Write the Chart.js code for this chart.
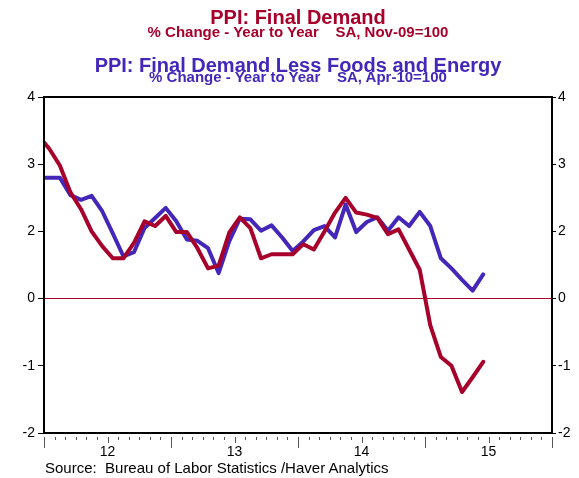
<!DOCTYPE html>
<html>
<head>
<meta charset="utf-8">
<script src="https://cdn.jsdelivr.net/npm/chart.js@4.4.1/dist/chart.umd.min.js"></script>
<style>
body{margin:0;background:#fff;}
#wrap{position:relative;width:579px;height:478px;font-family:"Liberation Sans",Arial,sans-serif;}
#wrap canvas{position:absolute;left:0;top:0;}
.t{position:absolute;left:0;width:596px;text-align:center;font-weight:bold;white-space:pre;}
.red{color:#a6002b;}
.blue{color:#4427b8;}
.big{font-size:20px;line-height:20px;}
.small{font-size:15px;line-height:15px;}
#source{position:absolute;left:45px;top:460px;font-size:15px;line-height:15px;color:#000;white-space:pre;}
</style>
</head>
<body>
<div id="wrap">
  <canvas id="chart" width="579" height="478"></canvas>
  <div class="t big red" style="top:7px">PPI: Final Demand</div>
  <div class="t small red" style="top:24px">% Change - Year to Year    SA, Nov-09=100</div>
  <div class="t big blue" style="top:55px">PPI: Final Demand Less Foods and Energy</div>
  <div class="t small blue" style="top:69px">% Change - Year to Year    SA, Apr-10=100</div>
  <div id="source">Source:  Bureau of Labor Statistics /Haver Analytics</div>
</div>
<script>
// months plotted, Dec-11 .. Jun-15
var months = ['Dec-11',
  'Jan-12','Feb-12','Mar-12','Apr-12','May-12','Jun-12','Jul-12','Aug-12','Sep-12','Oct-12','Nov-12','Dec-12',
  'Jan-13','Feb-13','Mar-13','Apr-13','May-13','Jun-13','Jul-13','Aug-13','Sep-13','Oct-13','Nov-13','Dec-13',
  'Jan-14','Feb-14','Mar-14','Apr-14','May-14','Jun-14','Jul-14','Aug-14','Sep-14','Oct-14','Nov-14','Dec-14',
  'Jan-15','Feb-15','Mar-15','Apr-15','May-15','Jun-15'];
// PPI: Final Demand (position on the value axis)
var finalDemand = [2.42,
  2.23,1.98,1.58,1.33,1.00,0.78,0.60,0.60,0.83,1.15,1.08,1.23,
  0.99,0.99,0.75,0.45,0.49,0.98,1.21,1.05,0.60,0.66,0.66,0.66,
  0.81,0.73,1.00,1.28,1.50,1.28,1.25,1.20,0.96,1.03,0.73,0.43,
  -0.40,-0.87,-1.00,-1.39,-1.17,-0.94];
// PPI: Final Demand Less Foods and Energy
var lessFoodEnergy = [1.80,
  1.80,1.80,1.54,1.47,1.53,1.30,0.97,0.63,0.69,1.05,1.20,1.35,
  1.15,0.88,0.86,0.75,0.38,0.85,1.19,1.18,1.01,1.09,0.91,0.71,
  0.85,1.02,1.08,0.91,1.40,0.99,1.14,1.21,1.01,1.21,1.08,1.29,
  1.08,0.60,0.45,0.28,0.12,0.36];
// value axis ticks and the labels printed on them
var yTickValues = [-2,-1,0,1,2,3];
var yTickLabels = ['-2','-1','0','2','3','4'];
// time axis: months since Jan-12, year labels at mid year
var xTickValues = [6,18,30,42];
var xTickLabels = ['12','13','14','15'];

var red = '#a6002b';
var blue = '#4427b8';

Chart.defaults.font.family = '"Liberation Sans", Arial, sans-serif';
Chart.defaults.color = '#000';

function points(values) {
  // mid-month, month 0 = Jan-12
  return values.map(function(v, i) { return {x: i - 0.5, y: v}; });
}

// frame round the plot and the month ticks under it
var framePlugin = {
  id: 'frame',
  afterDraw: function(chart) {
    var c = chart.ctx, a = chart.chartArea, x = chart.scales.x;
    c.save();
    c.strokeStyle = '#000';
    c.lineWidth = 2;
    c.strokeRect(a.left, a.top, a.right - a.left, a.bottom - a.top);
    c.lineWidth = 1;
    c.strokeStyle = '#555';
    for (var m = 0; m <= 48; m++) {
      var px = Math.round(x.getPixelForValue(m)) + 0.5;
      var len = (m % 12 == 0) ? 11 : (m % 6 == 0 ? 6 : 3);
      c.beginPath();
      c.moveTo(px, a.bottom + 4);
      c.lineTo(px, a.bottom + 4 + len);
      c.stroke();
    }
    c.restore();
  }
};

var yTicks = function(scale) {
  scale.ticks = yTickValues.map(function(v) { return {value: v}; });
};

var config = {
  type: 'line',
  data: {
    datasets: [{
      label: 'PPI: Final Demand',
      data: points(finalDemand),
      borderColor: red,
      borderWidth: 4,
      pointRadius: 0,
      tension: 0,
      clip: 0,
      borderCapStyle: 'round',
      borderJoinStyle: 'round'
    },
    {
      label: 'PPI: Final Demand Less Foods and Energy',
      data: points(lessFoodEnergy),
      borderColor: blue,
      borderWidth: 4,
      pointRadius: 0,
      tension: 0,
      clip: 0,
      borderCapStyle: 'round',
      borderJoinStyle: 'round'
    }]
  },
  options: {
    responsive: false,
    animation: false,
    layout: {padding: {top: 97, left: 0, right: 0, bottom: 0}},
    plugins: {legend: {display: false}, tooltip: {enabled: false}},
    scales: {
      x: {
        type: 'linear', min: 0, max: 48,
        afterFit: function(s) { s.height = 45; },
        afterBuildTicks: function(s) { s.ticks = xTickValues.map(function(v) { return {value: v}; }); },
        grid: {display: false, drawTicks: false},
        border: {display: false},
        ticks: {
          autoSkip: false, maxRotation: 0, padding: 11, font: {size: 14},
          callback: function(v) { return xTickLabels[xTickValues.indexOf(v)]; }
        }
      },
      y: {
        position: 'left', min: -2, max: 3,
        afterFit: function(s) { s.width = 44; },
        afterBuildTicks: yTicks,
        grid: {
          color: function(c) { return (c.tick && c.tick.value === 0) ? red : 'rgba(0,0,0,0)'; },
          tickColor: '#000', tickLength: 6, lineWidth: 1
        },
        border: {display: false},
        ticks: {
          padding: 3, font: {size: 14},
          callback: function(v) { return yTickLabels[yTickValues.indexOf(v)]; }
        }
      },
      y2: {
        position: 'right', min: -2, max: 3,
        afterFit: function(s) { s.width = 27; },
        afterBuildTicks: yTicks,
        grid: {drawOnChartArea: false, tickColor: '#000', tickLength: 4},
        border: {display: false},
        ticks: {
          padding: 2, font: {size: 14},
          callback: function(v) { return yTickLabels[yTickValues.indexOf(v)]; }
        }
      }
    }
  },
  plugins: [framePlugin]
};

var ctx = document.getElementById('chart').getContext('2d');
window.myLine = new Chart(ctx, config);
</script>
</body>
</html>
